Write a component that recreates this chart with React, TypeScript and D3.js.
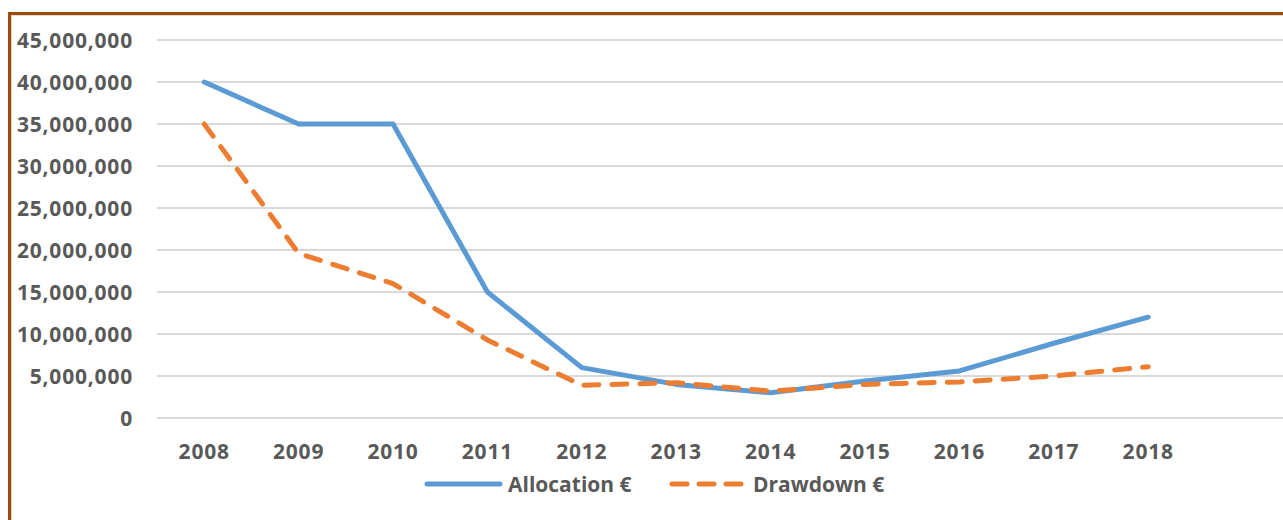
import React from "react";
import * as d3 from "d3";

const years = ["2008", "2009", "2010", "2011", "2012", "2013", "2014", "2015", "2016", "2017", "2018"];
const allocation = [40000000, 35000000, 35000000, 15000000, 6000000, 4000000, 3000000, 4400000, 5600000, 8900000, 12000000];
const drawdown = [35000000, 19600000, 16000000, 9300000, 3900000, 4200000, 3200000, 4000000, 4300000, 5000000, 6100000];
const yTicks = [0, 5000000, 10000000, 15000000, 20000000, 25000000, 30000000, 35000000, 40000000, 45000000];
const seriesNames = ["Allocation €", "Drawdown €"];

const W = 1283;
const H = 520;
const BLUE = "#5B9BD5";
const ORANGE = "#ED7D31";
const GRID = "#D9D9D9";
const TEXT = "#595959";
const FONT = "'Open Sans', sans-serif";

export default function App() {
  const x = d3.scaleBand<string>().domain(years).range([157, 157 + 11 * 94.4]);
  const y = d3.scaleLinear().domain([0, 45000000]).range([418, 40]);
  const cx = (d: string) => (x(d) as number) + x.bandwidth() / 2;
  const line = d3
    .line<number>()
    .x((_, i) => cx(years[i]))
    .y((v) => y(v));
  const fmt = d3.format(",");

  return (
    <svg width={W} height={H} style={{ position: "absolute", left: 0, top: 0, background: "#fff" }}>
      <rect x={0} y={0} width={W} height={H} fill="#fff" />
      {/* chart-area light border */}
      <rect x={11.5} y={15.5} width={W} height={H} fill="none" stroke="#D9D9D9" strokeWidth={1} />
      {/* cell borders */}
      <line x1={8} x2={W} y1={13.5} y2={13.5} stroke="#9E4A0C" strokeWidth={3} />
      <line x1={9.5} x2={9.5} y1={12} y2={H} stroke="#9E4A0C" strokeWidth={3} />

      {/* grid + y labels */}
      {yTicks.map((t) => (
        <g key={t}>
          <line x1={157} x2={W} y1={y(t)} y2={y(t)} stroke={GRID} strokeWidth={2} />
          <text
            x={133}
            y={y(t)}
            textAnchor="end"
            dominantBaseline="central"
            fontFamily={FONT}
            fontWeight={700}
            fontSize={21}
            letterSpacing={0.8}
            fill={TEXT}
          >
            {fmt(t)}
          </text>
        </g>
      ))}

      {/* x labels */}
      {years.map((yr) => (
        <text
          key={yr}
          x={cx(yr)}
          y={451}
          textAnchor="middle"
          dominantBaseline="central"
          fontFamily={FONT}
          fontWeight={700}
          fontSize={21}
          letterSpacing={0.8}
          fill={TEXT}
        >
          {yr}
        </text>
      ))}

      {/* series */}
      <path d={line(allocation) || ""} fill="none" stroke={BLUE} strokeWidth={5} strokeLinejoin="round" strokeLinecap="round" />
      <path
        d={line(drawdown) || ""}
        fill="none"
        stroke={ORANGE}
        strokeWidth={5}
        strokeLinejoin="round"
        strokeLinecap="round"
        strokeDasharray="15 13"
      />

      {/* legend */}
      <line x1={427} x2={500} y1={484} y2={484} stroke={BLUE} strokeWidth={5} strokeLinecap="round" />
      <text x={508} y={484} dominantBaseline="central" fontFamily={FONT} fontWeight={700} fontSize={21} fill={TEXT}>
        {seriesNames[0]}
      </text>
      <line
        x1={672}
        x2={741}
        y1={484}
        y2={484}
        stroke={ORANGE}
        strokeWidth={5}
        strokeLinecap="round"
        strokeDasharray="15 12"
      />
      <text x={753} y={484} dominantBaseline="central" fontFamily={FONT} fontWeight={700} fontSize={21} fill={TEXT}>
        {seriesNames[1]}
      </text>
    </svg>
  );
}
